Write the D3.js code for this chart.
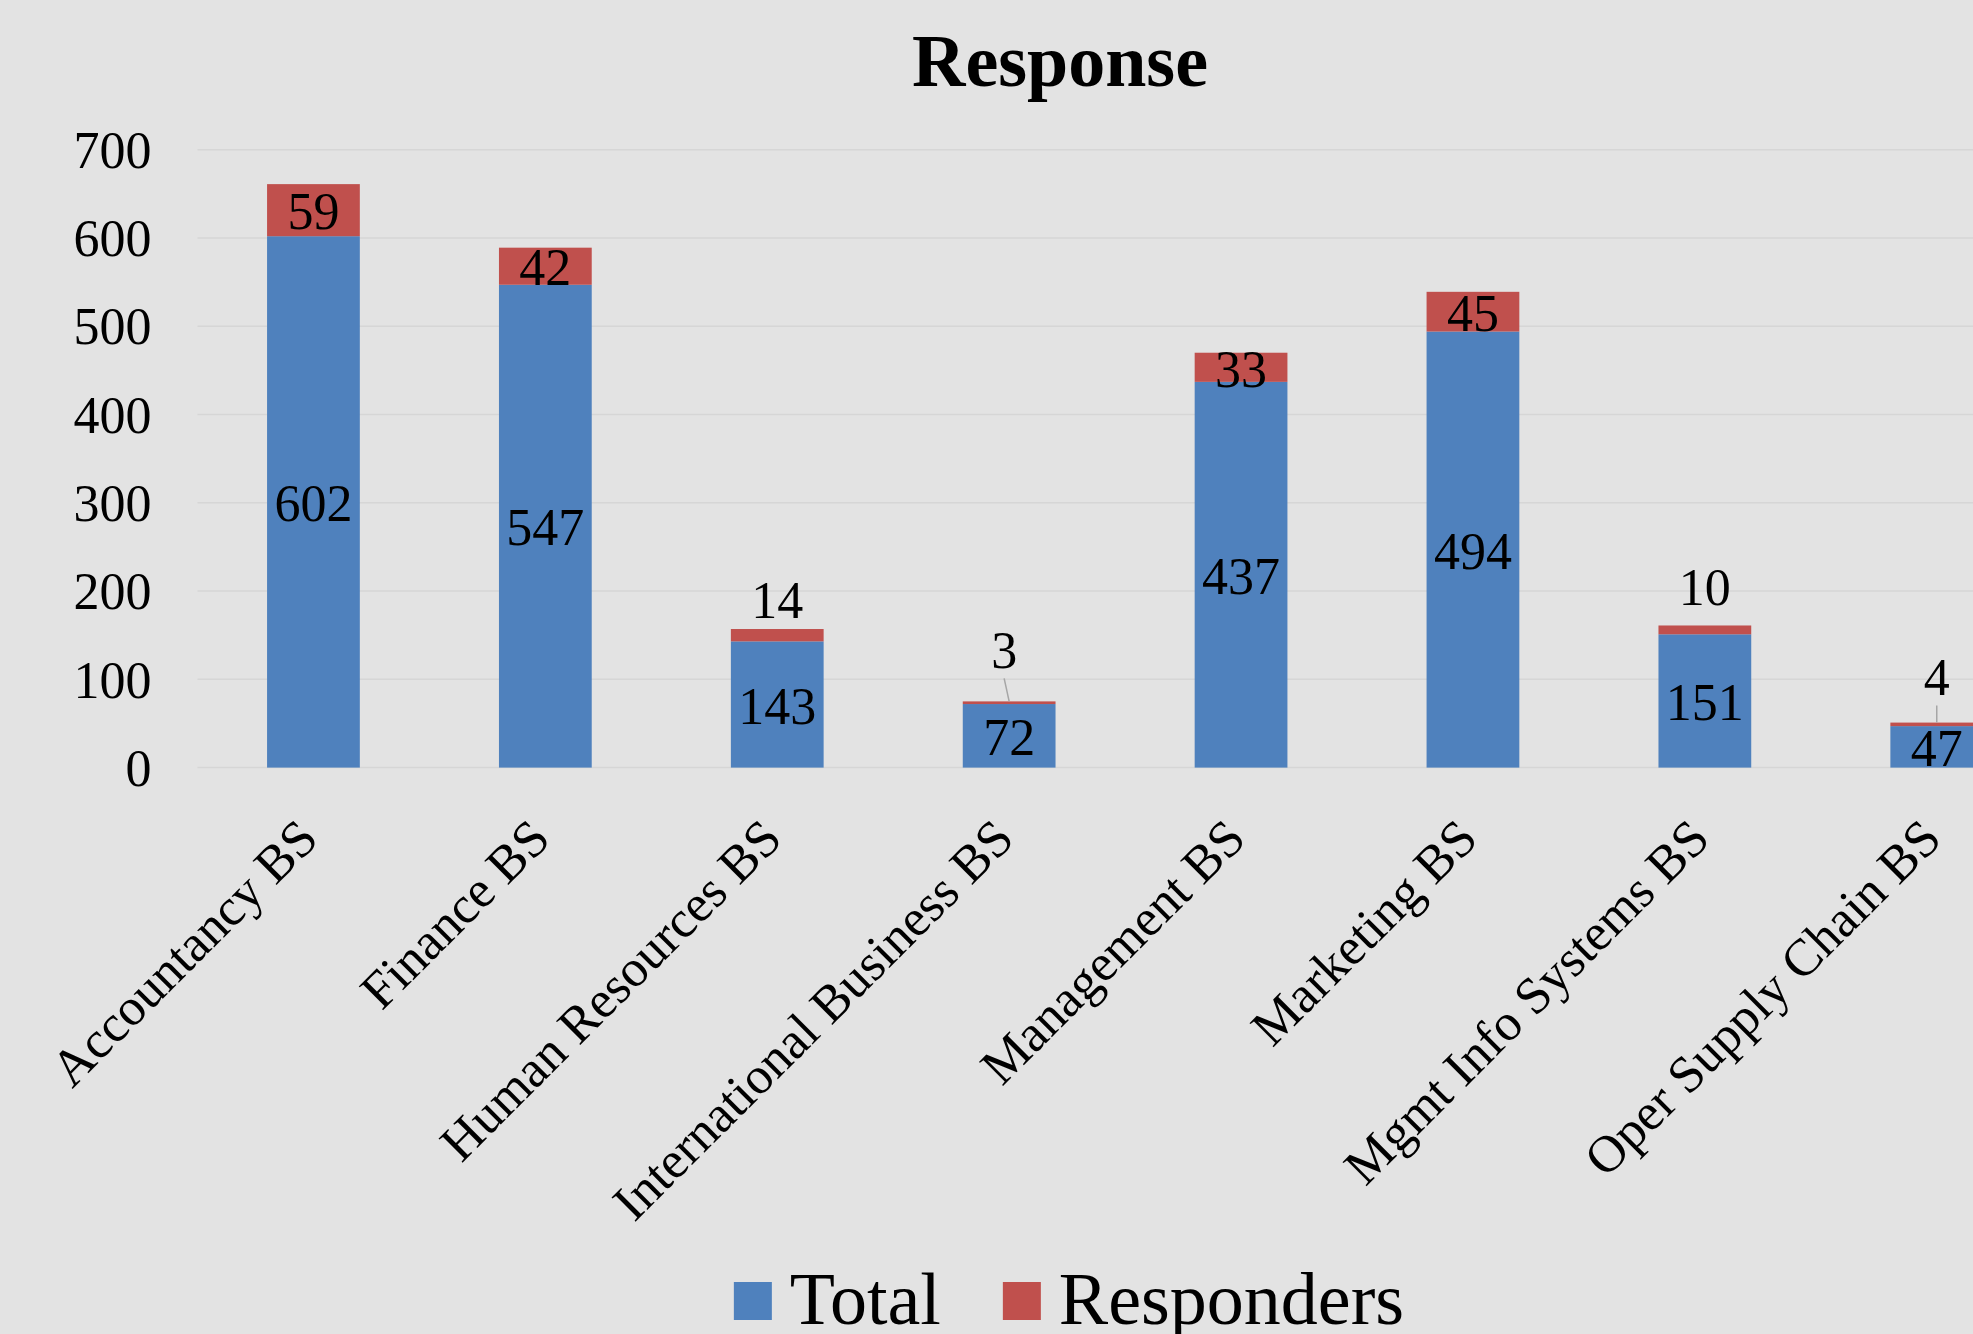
<!DOCTYPE html>
<html>
<head>
<meta charset="utf-8">
<script src="https://cdn.jsdelivr.net/npm/d3@7"></script>
<style>
    html, body { margin: 0; padding: 0; background: #e3e3e3; overflow: hidden; }
    text { font-family: "Liberation Serif", "Times New Roman", serif; fill: #000; }
</style>
</head>
<body>
<div id="chart-1"></div>
<script>
var categories = ['Accountancy BS', 'Finance BS', 'Human Resources BS', 'International Business BS',
                  'Management BS', 'Marketing BS', 'Mgmt Info Systems BS', 'Oper Supply Chain BS'];
var total = [602, 547, 143, 72, 437, 494, 151, 47];
var responders = [59, 42, 14, 3, 33, 45, 10, 4];
var yTicks = [0, 100, 200, 300, 400, 500, 600, 700];
var seriesNames = ['Total', 'Responders'];

var colors = ['#4f81bd', '#c0504d'];

// labels that don't fit inside the red cap sit above the bar (px lift, x nudge, leader line)
var callouts = {
    2: { lift: 30, dx: 0, leader: false },
    3: { lift: 53, dx: -5, leader: true },
    6: { lift: 40, dx: 0, leader: false },
    7: { lift: 47, dx: 0, leader: true }
};

function bar_chart(id) {
    var width = 1973, height = 1334;
    var left = 197.5, step = 231.9;

    var svg = d3.select(`#chart-${id}`).append('svg')
        .attr('width', width)
        .attr('height', height)
        .style('display', 'block');

    svg.append('rect')
        .attr('width', width)
        .attr('height', height)
        .attr('fill', '#e3e3e3');

    var x = d3.scaleBand()
                .domain(categories)
                .range([left, left + step * categories.length])
                .paddingInner(0.6)
                .paddingOuter(0.3);
    var y = d3.scaleLinear()
                .domain([0, 700])
                .range([767.6, 149.7]);

    // title
    svg.append('text')
        .attr('x', 1060)
        .attr('y', 86)
        .attr('text-anchor', 'middle')
        .style('font-size', '74px')
        .style('font-weight', 'bold')
        .text('Response');

    // gridlines
    svg.append('g')
        .selectAll('line')
        .data(yTicks)
        .join('line')
        .attr('x1', left)
        .attr('x2', width)
        .attr('y1', d => y(d))
        .attr('y2', d => y(d))
        .attr('stroke', '#d6d6d6')
        .attr('stroke-width', 1.5);

    // y axis labels
    var yAxis = svg.append('g')
        .attr('transform', `translate(${left - 46},0)`)
        .call(d3.axisLeft(y).tickValues(yTicks).tickSize(0).tickPadding(0).tickFormat(d3.format('d')));
    yAxis.select('.domain').remove();
    yAxis.selectAll('text')
        .style('font-size', '52px')
        .attr('fill', '#000')
        .attr('dy', '0.34em');

    // stacked bars
    var rows = categories.map((c, i) => ({ category: c, Total: total[i], Responders: responders[i] }));
    var stacked = d3.stack().keys(seriesNames)(rows);

    var layers = svg.append('g')
        .selectAll('g')
        .data(stacked)
        .join('g')
        .attr('fill', (d, i) => colors[i]);

    layers.selectAll('rect')
        .data(d => d)
        .join('rect')
        .attr('x', d => x(d.data.category))
        .attr('y', d => y(d[1]))
        .attr('width', x.bandwidth())
        .attr('height', d => y(d[0]) - y(d[1]));

    // data labels
    var labels = svg.append('g').style('font-size', '52px');
    stacked.forEach(function (layer, s) {
        layer.forEach(function (d, i) {
            var cx = x(d.data.category) + x.bandwidth() / 2;
            var cy = (y(d[0]) + y(d[1])) / 2;
            var c = s === 1 ? callouts[i] : null;
            if (c) {
                var top = y(d[1]);
                cy = top - c.lift;
                if (c.leader) {
                    svg.append('line')
                        .attr('x1', cx + c.dx)
                        .attr('y1', cy + 30)
                        .attr('x2', cx)
                        .attr('y2', top)
                        .attr('stroke', '#a6a6a6')
                        .attr('stroke-width', 1.5);
                }
                cx += c.dx;
            }
            labels.append('text')
                .attr('x', cx)
                .attr('y', cy)
                .attr('dy', '0.37em')
                .attr('text-anchor', 'middle')
                .text(d[1] - d[0]);
        });
    });

    // category labels
    svg.append('g')
        .selectAll('text')
        .data(categories)
        .join('text')
        .attr('transform', d => `translate(${x(d) + x.bandwidth() / 2 + 7},841) rotate(-45)`)
        .attr('text-anchor', 'end')
        .style('font-size', '52px')
        .text(d => d);

    // legend
    var legend = svg.append('g').style('font-size', '74px');
    var items = legend.selectAll('g')
        .data(seriesNames)
        .join('g');
    items.append('rect')
        .attr('y', 1282)
        .attr('width', 38)
        .attr('height', 38)
        .attr('fill', (d, i) => colors[i]);
    items.append('text')
        .attr('x', 56)
        .attr('y', 1324)
        .text(d => d);

    var pos = 0;
    items.each(function () {
        var w = this.getBBox().width;
        d3.select(this).attr('data-x', pos);
        pos += w + 62;
    });
    var legendWidth = pos - 62;
    var start = 1069 - legendWidth / 2;
    items.attr('transform', function () {
        return `translate(${start + (+this.getAttribute('data-x'))},0)`;
    });
}

bar_chart(1);
</script>
</body>
</html>
